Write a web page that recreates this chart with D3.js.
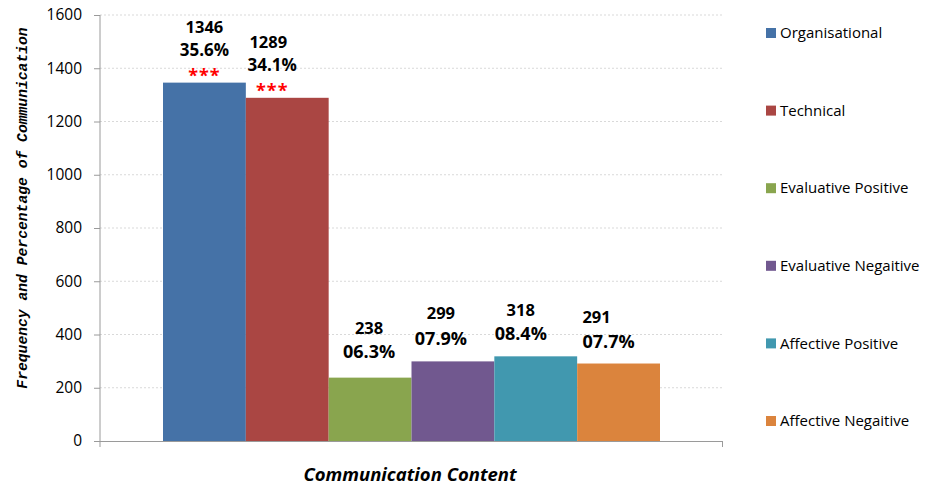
<!DOCTYPE html>
<html><head><meta charset="utf-8">
<script src="https://cdn.jsdelivr.net/npm/d3@7"></script>
<style>body{margin:0;background:#fff}svg{display:block}</style>
</head><body><svg id="c" width="938" height="486"></svg>
<script>
const categories = ["Organisational","Technical","Evaluative Positive","Evaluative Negaitive","Affective Positive","Affective Negaitive"];
const counts = [1346,1289,238,299,318,291];
const percents = ["35.6%","34.1%","06.3%","07.9%","08.4%","07.7%"];
const stars = ["***","***","","","",""];
const yTicks = [0,200,400,600,800,1000,1200,1400,1600];
const colors = ["#4572A7","#AA4643","#89A54E","#71588F","#4198AF","#DB843D"];
// label layout offsets (dx count, dx pct, dy count, dy pct) relative to bar centre/top
const labelLayout = [
  [0,0,-55,-33],[-19,-15,-56,-33],[-1,-1,-49,-26],[-12,-12,-48,-23],[-15,-15,-46,-23],[-22,-10,-46,-22]
];

const svg = d3.select("#c");
const L = 100, R = 723, T = 15, B = 441;
const y = d3.scaleLinear().domain([0,1600]).range([B,T]);
const gap = 63;
const x = d3.scaleBand().domain(categories).range([L+gap, R-gap]).padding(0);

// gridlines
svg.append("g").selectAll("line").data(yTicks.filter(d=>d>0)).join("line")
  .attr("x1",L).attr("x2",R).attr("y1",d=>y(d)).attr("y2",d=>y(d))
  .attr("stroke","#d9d9d9").attr("stroke-width",1).attr("stroke-dasharray","2,2");

// bars
svg.append("g").selectAll("rect").data(categories).join("rect")
  .attr("x",d=>x(d)).attr("width",x.bandwidth())
  .attr("y",(d,i)=>y(counts[i])).attr("height",(d,i)=>B-y(counts[i]))
  .attr("fill",(d,i)=>colors[i]);

// y axis
const yAxis = d3.axisLeft(y).tickValues(yTicks).tickSize(6).tickPadding(12).tickFormat(d3.format("d"));
const gy = svg.append("g").attr("transform",`translate(${L},0)`).call(yAxis);
gy.select(".domain").attr("stroke","#9a9a9a").attr("d",`M0,${T}V${B+6}`);
gy.selectAll(".tick line").attr("stroke","#9a9a9a");
gy.selectAll("text").attr("font-family","Open Sans").attr("font-size","15.5px").attr("fill","#000");

// x axis line + end ticks
svg.append("line").attr("x1",L-6).attr("x2",R).attr("y1",B+0.5).attr("y2",B+0.5).attr("stroke","#9a9a9a");
svg.append("line").attr("x1",R-0.5).attr("x2",R-0.5).attr("y1",B).attr("y2",B+6).attr("stroke","#9a9a9a");

// labels
const lab = svg.append("g").attr("font-family","Open Sans").attr("font-weight","bold").attr("text-anchor","middle");
categories.forEach((c,i)=>{
  const cx = x(c)+x.bandwidth()/2, top = y(counts[i]);
  const big = counts[i] > 1000;
  lab.append("text").attr("x",cx+labelLayout[i][0]).attr("y",top+labelLayout[i][2]).attr("dy","0.35em")
    .attr("font-size", big?"16.5px":"16.5px").text(counts[i]);
  lab.append("text").attr("x",cx+labelLayout[i][1]).attr("y",top+labelLayout[i][3]).attr("dy","0.35em")
    .attr("font-size", big?"17px":"18px").text(percents[i]);
  if (stars[i]) lab.append("text").attr("x",cx+labelLayout[i][1]).attr("y",top-11).attr("dy","0.55em")
    .attr("font-size","18px").attr("letter-spacing","1px").attr("fill","#ff0000").text(stars[i]);
});

// axis titles
svg.append("text").attr("transform","translate(27,208) rotate(-90)").attr("text-anchor","middle")
  .attr("font-family","Liberation Mono").attr("font-style","italic").attr("font-weight","bold")
  .attr("font-size","14.7px").text("Frequency and Percentage of Communication");
svg.append("text").attr("x",410).attr("y",481).attr("text-anchor","middle")
  .attr("font-family","Open Sans").attr("font-style","italic").attr("font-weight","bold")
  .attr("font-size","18.5px").text("Communication Content");

// legend
const lg = svg.append("g").selectAll("g").data(categories).join("g")
  .attr("transform",(d,i)=>`translate(766,${33+i*77.6})`);
lg.append("rect").attr("x",0).attr("y",-5).attr("width",10).attr("height",10).attr("fill",(d,i)=>colors[i]);
lg.append("text").attr("x",14).attr("dy","0.35em").attr("font-family","Open Sans").attr("font-size","15px").text(d=>d);
</script></body></html>
